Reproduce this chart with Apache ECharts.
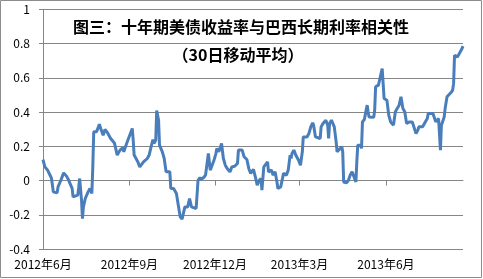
<!DOCTYPE html>
<html><head><meta charset="utf-8">
<script src="https://cdn.jsdelivr.net/npm/echarts@6/dist/echarts.min.js"></script>
<style>html,body{margin:0;padding:0;background:#fff}#c{width:483px;height:279px}</style>
</head><body><div id="c"></div>
<script>
const titleLine1 = '图三：十年期美债收益率与巴西长期利率相关性';
const titleLine2 = '（30日移动平均）';
const startDate = '2012-06-01';
const endDate = '2013-08-22';
const tickDates = ['2012-06-01','2012-09-01','2012-12-01','2013-03-01','2013-06-01'];
const tickLabels = ['2012年6月','2012年9月','2012年12月','2013年3月','2013年6月'];
const yMin = -0.4, yMax = 1, yStep = 0.2;

const dates = [
'2012-06-01','2012-06-03','2012-06-06','2012-06-08','2012-06-10','2012-06-12','2012-06-16','2012-06-17','2012-06-20','2012-06-23',
'2012-06-26','2012-06-28','2012-06-30','2012-07-02','2012-07-03','2012-07-05','2012-07-08','2012-07-09','2012-07-10','2012-07-12',
'2012-07-13','2012-07-14','2012-07-16','2012-07-18','2012-07-19','2012-07-21','2012-07-23','2012-07-24','2012-07-25','2012-07-27',
'2012-07-28','2012-07-30','2012-07-31','2012-08-02','2012-08-04','2012-08-06','2012-08-08','2012-08-10','2012-08-12','2012-08-14',
'2012-08-16','2012-08-18','2012-08-19','2012-08-22','2012-08-25','2012-08-26','2012-08-29','2012-08-31','2012-09-02','2012-09-04',
'2012-09-05','2012-09-06','2012-09-08','2012-09-10','2012-09-12','2012-09-14','2012-09-16','2012-09-18','2012-09-20','2012-09-22',
'2012-09-24','2012-09-26','2012-09-27','2012-09-29','2012-09-30','2012-10-02','2012-10-03','2012-10-06','2012-10-08','2012-10-10',
'2012-10-14','2012-10-15','2012-10-16','2012-10-18','2012-10-21','2012-10-23','2012-10-25','2012-10-27','2012-10-30','2012-11-01',
'2012-11-02','2012-11-04','2012-11-06','2012-11-08','2012-11-11','2012-11-13','2012-11-15','2012-11-16','2012-11-19','2012-11-21',
'2012-11-23','2012-11-24','2012-11-26','2012-11-28','2012-11-30','2012-12-02','2012-12-03','2012-12-05','2012-12-07','2012-12-08',
'2012-12-10','2012-12-12','2012-12-14','2012-12-17','2012-12-19','2012-12-22','2012-12-25','2012-12-26','2012-12-28','2012-12-30',
'2013-01-01','2013-01-04','2013-01-06','2013-01-08','2013-01-11','2013-01-13','2013-01-15','2013-01-17','2013-01-19','2013-01-20',
'2013-01-22','2013-01-24','2013-01-26','2013-01-27','2013-01-30','2013-02-01','2013-02-03','2013-02-05','2013-02-06','2013-02-09',
'2013-02-11','2013-02-12','2013-02-15','2013-02-17','2013-02-19','2013-02-20','2013-02-21','2013-02-23','2013-02-25','2013-02-27',
'2013-02-28','2013-03-02','2013-03-04','2013-03-05','2013-03-09','2013-03-11','2013-03-13','2013-03-15','2013-03-16','2013-03-18',
'2013-03-20','2013-03-23','2013-03-24','2013-03-26','2013-03-29','2013-03-31','2013-04-01','2013-04-02','2013-04-04','2013-04-06',
'2013-04-07','2013-04-09','2013-04-10','2013-04-12','2013-04-15','2013-04-16','2013-04-17','2013-04-20','2013-04-22','2013-04-24',
'2013-04-26','2013-04-28','2013-04-30','2013-05-01','2013-05-02','2013-05-05','2013-05-06','2013-05-07','2013-05-09','2013-05-11',
'2013-05-12','2013-05-13','2013-05-14','2013-05-16','2013-05-19','2013-05-20','2013-05-21','2013-05-24','2013-05-26','2013-05-28',
'2013-05-29','2013-05-30','2013-06-02','2013-06-04','2013-06-06','2013-06-09','2013-06-11','2013-06-13','2013-06-15','2013-06-17',
'2013-06-18','2013-06-19','2013-06-21','2013-06-23','2013-06-26','2013-06-29','2013-07-01','2013-07-03','2013-07-05','2013-07-06',
'2013-07-08','2013-07-10','2013-07-12','2013-07-15','2013-07-16','2013-07-18','2013-07-21','2013-07-22','2013-07-24','2013-07-26',
'2013-07-27','2013-07-29','2013-07-30','2013-08-02','2013-08-03','2013-08-05','2013-08-06','2013-08-09','2013-08-11','2013-08-12',
'2013-08-13','2013-08-16','2013-08-17','2013-08-19','2013-08-21','2013-08-22'
];
const corr = [
0.123,0.080,0.060,0.037,0.014,-0.066,-0.072,-0.037,0.002,0.045,
0.026,0.006,0.012,-0.046,-0.095,-0.085,-0.085,-0.040,0.012,-0.115,
-0.222,-0.154,-0.105,-0.095,-0.066,-0.046,-0.075,0.080,0.285,0.275,
0.285,0.314,0.330,0.295,0.265,0.299,0.285,0.275,0.246,0.255,
0.220,0.217,0.149,0.178,0.193,0.168,0.217,0.217,0.275,0.305,
0.236,0.149,0.158,0.109,0.080,0.090,0.109,0.100,0.129,0.149,
0.197,0.240,0.217,0.236,0.410,0.353,0.207,0.168,0.129,0.051,
0.051,-0.046,-0.037,-0.046,-0.075,-0.144,-0.212,-0.225,-0.154,-0.150,
-0.154,-0.105,-0.154,-0.157,-0.163,0.002,0.018,0.006,0.018,0.032,
0.022,0.158,0.061,0.090,0.119,0.158,0.188,0.168,0.197,0.217,
0.129,0.090,0.071,0.051,0.080,0.084,0.100,0.178,0.188,0.178,
0.139,0.123,0.071,0.042,0.066,0.022,-0.027,0.000,0.012,-0.056,
0.080,0.090,0.109,0.051,0.061,0.032,0.051,-0.008,-0.046,-0.037,
-0.033,0.042,0.032,0.061,0.149,0.129,0.158,0.178,0.149,0.139,
0.119,0.090,0.168,0.255,0.255,0.275,0.314,0.338,0.324,0.255,
0.246,0.246,0.314,0.334,0.353,0.324,0.246,0.334,0.353,0.353,
0.314,0.226,0.168,0.178,0.197,0.168,-0.008,-0.013,0.000,0.032,
0.051,0.042,-0.008,0.109,0.207,0.207,0.188,0.343,0.357,0.363,
0.441,0.402,0.372,0.369,0.370,0.412,0.548,0.558,0.606,0.655,
0.568,0.480,0.470,0.382,0.343,0.324,0.402,0.422,0.441,0.490,
0.500,0.422,0.402,0.334,0.343,0.343,0.338,0.275,0.295,0.314,
0.305,0.314,0.324,0.363,0.392,0.396,0.392,0.392,0.343,0.334,
0.363,0.178,0.324,0.372,0.422,0.490,0.500,0.513,0.529,0.568,
0.733,0.723,0.733,0.752,0.772,0.786
];

// daily category list for the date axis
function fmt(d){const m=d.getUTCMonth()+1, dd=d.getUTCDate();return d.getUTCFullYear()+'-'+(m<10?'0':'')+m+'-'+(dd<10?'0':'')+dd;}
const days = [];
for (let d = new Date(startDate+'T00:00:00Z'); d <= new Date(endDate+'T00:00:00Z'); d.setUTCDate(d.getUTCDate()+1)) days.push(fmt(d));
const isTick = (idx, val) => tickDates.indexOf(val) >= 0;
const labelOf = v => tickLabels[tickDates.indexOf(v)];

const chart = echarts.init(document.getElementById('c'));
const FONT = '"Noto Sans CJK SC", sans-serif';
const titleStyle = { fontFamily: FONT, fontSize: 16, fontWeight: 'bold', fill: '#000', textAlign: 'center', textVerticalAlign: 'middle' };
chart.setOption({
  animation: false,
  backgroundColor: '#fff',
  graphic: [
    { type: 'rect', shape: { x: 0.5, y: 0.5, width: 481, height: 277 }, style: { fill: 'none', stroke: '#8c8c8c', lineWidth: 1 }, silent: true },
    { type: 'text', x: 241, y: 27, style: Object.assign({ text: titleLine1 }, titleStyle), silent: true, z: 100 },
    { type: 'text', x: 238, y: 55, style: Object.assign({ text: titleLine2 }, titleStyle), silent: true, z: 100 }
  ],
  grid: { left: 43, right: 20, top: 9.5, bottom: 30, containLabel: false },
  xAxis: [{
    type: 'category', data: days, boundaryGap: false, position: 'bottom',
    axisLine: { show: false, onZero: false }, axisTick: { show: false },
    axisLabel: { interval: isTick, formatter: labelOf, fontFamily: FONT, fontSize: 12, color: '#000', margin: 9, showMinLabel: true },
    splitLine: { show: false }
  }, {
    type: 'category', data: days, boundaryGap: false, position: 'top',
    axisLine: { show: true, onZero: true, lineStyle: { color: '#868686', width: 1 } },
    axisTick: { show: true, inside: true, length: 5, interval: isTick, lineStyle: { color: '#868686' } },
    axisLabel: { show: false }, splitLine: { show: false }
  }],
  yAxis: {
    type: 'value', min: yMin, max: yMax + 1e-6, interval: yStep,
    axisLine: { show: true, lineStyle: { color: '#868686' } },
    axisTick: { show: true, length: 4, lineStyle: { color: '#868686' } },
    axisLabel: { fontFamily: FONT, fontSize: 12, color: '#000', margin: 13,
      formatter: v => String(Math.round(v*10)/10) },
    splitLine: { show: true, lineStyle: { color: '#868686', width: 1 } }
  },
  series: [{
    type: 'line', xAxisIndex: 0,
    data: dates.map((d, i) => [d, corr[i]]),
    showSymbol: false, symbol: 'none',
    lineStyle: { color: '#4A7EBB', width: 3 },
    itemStyle: { color: '#4A7EBB' }
  }]
});
</script></body></html>
